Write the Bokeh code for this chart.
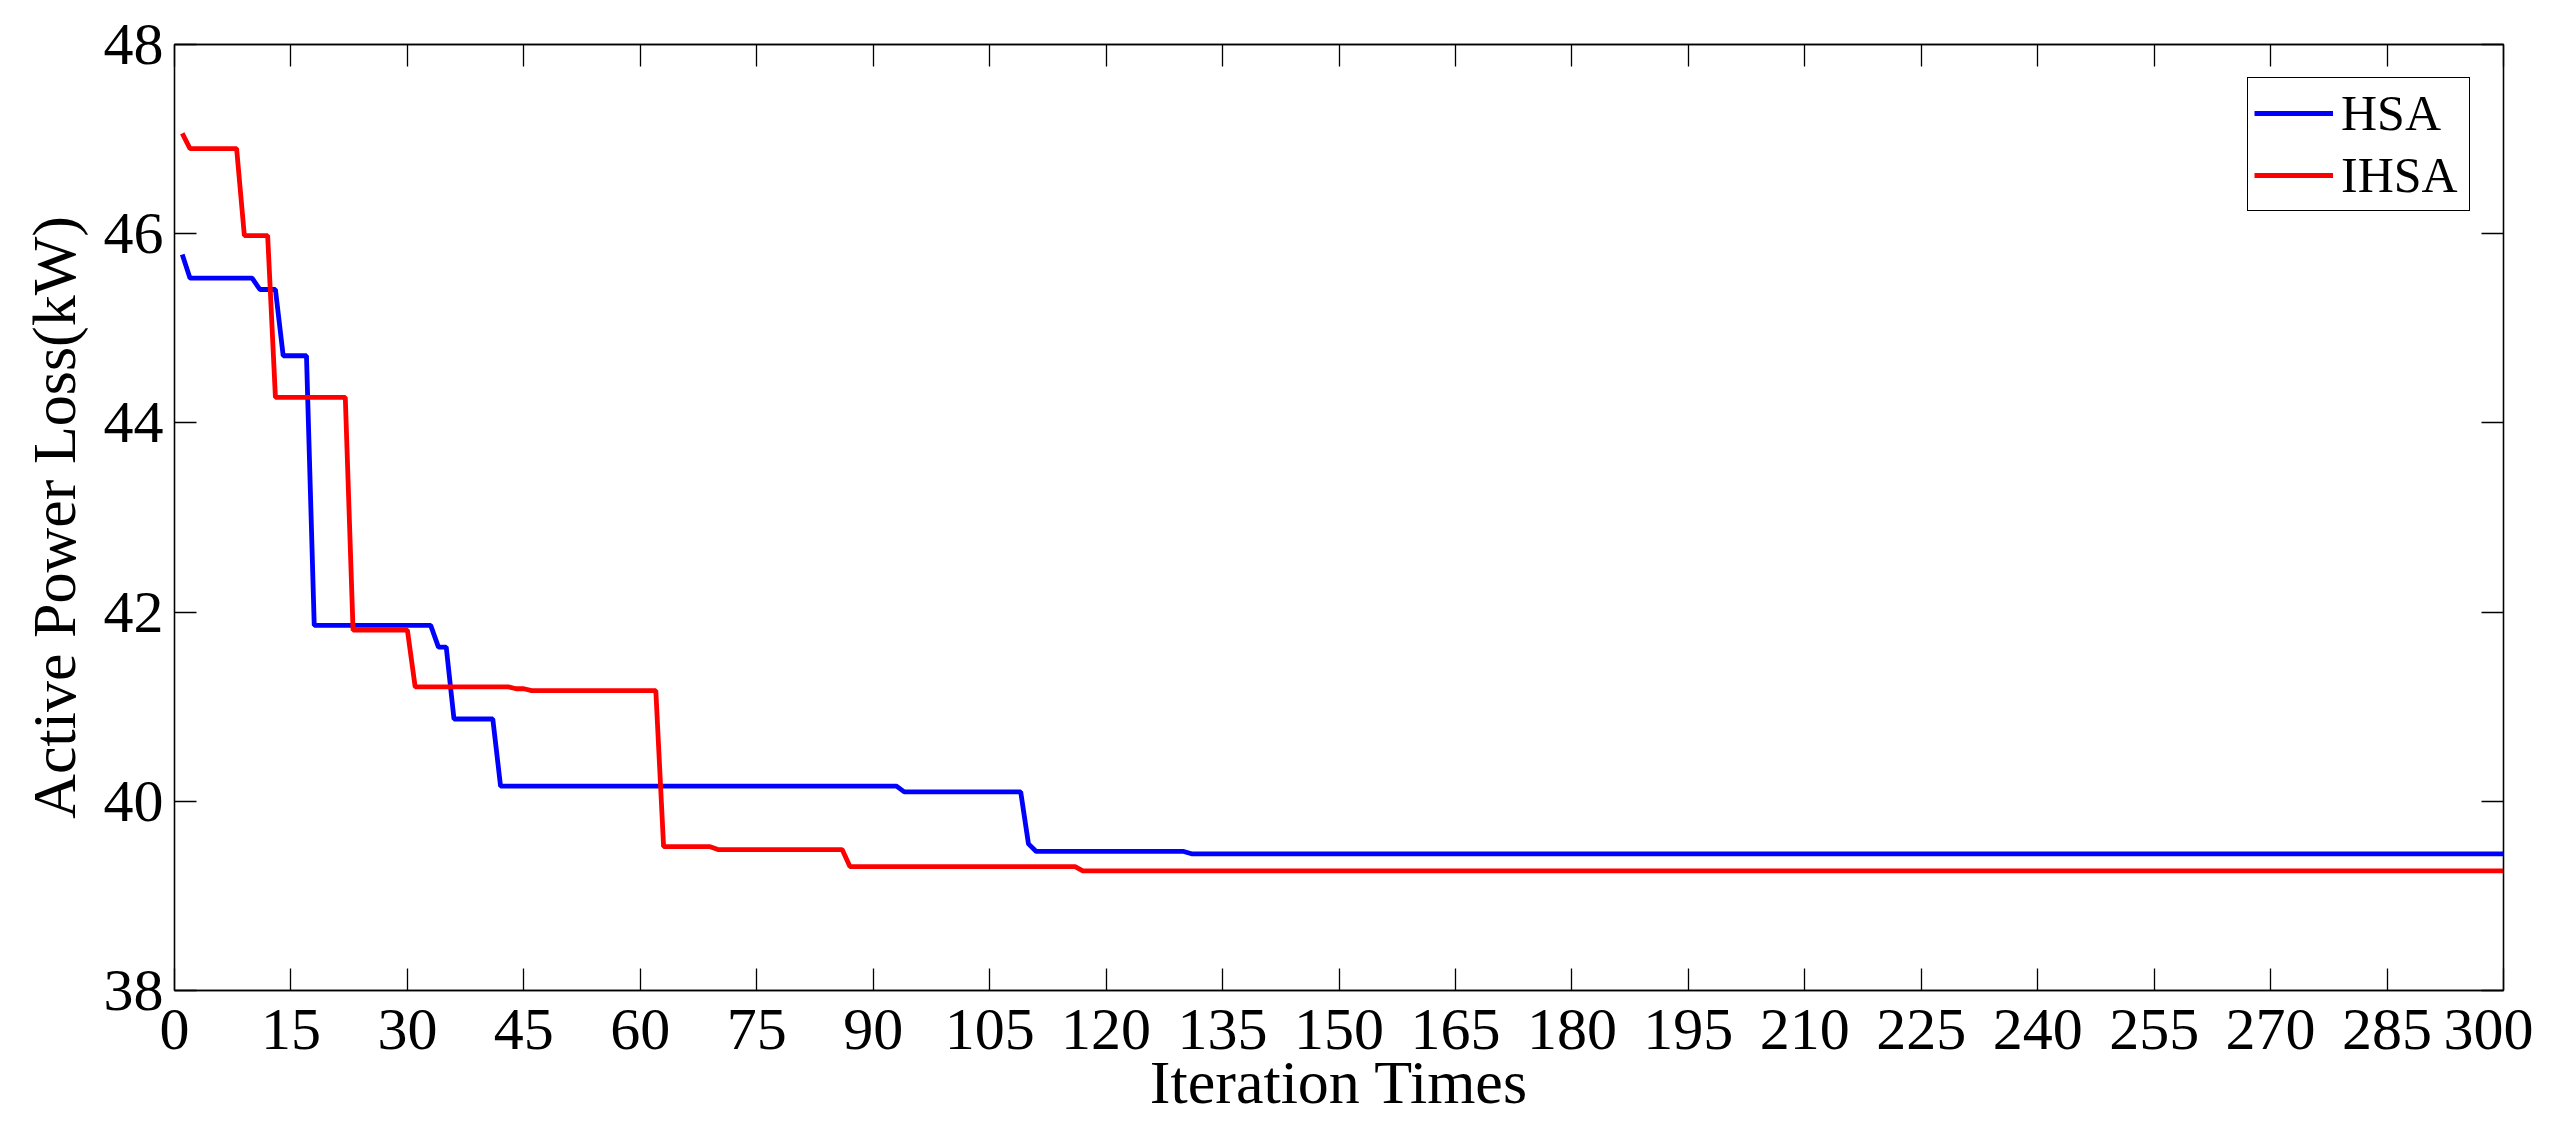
from bokeh.plotting import figure
from bokeh.models import LinearAxis, FixedTicker, Range1d, Legend, LegendItem
from bokeh.embed import file_html
from bokeh.resources import INLINE

# ---- data (breakpoints of the best-so-far curves) ----
hsa_iter = [1, 2, 10, 11, 13, 14, 17, 18, 33, 34, 35, 36, 41, 42, 93, 94, 109, 110, 111, 130, 131, 300]
hsa_loss = [45.78, 45.53, 45.53, 45.41, 45.41, 44.71, 44.71, 41.86, 41.86, 41.63, 41.63, 40.87, 40.87,
            40.16, 40.16, 40.10, 40.10, 39.55, 39.47, 39.47, 39.445, 39.445]

ihsa_iter = [1, 2, 8, 9, 12, 13, 22, 23, 30, 31, 43, 44, 45, 46, 62, 63, 69, 70, 86, 87, 116, 117, 300]
ihsa_loss = [47.06, 46.90, 46.90, 45.98, 45.98, 44.27, 44.27, 41.81, 41.81, 41.21, 41.21, 41.19, 41.19,
             41.17, 41.17, 39.52, 39.52, 39.49, 39.49, 39.31, 39.31, 39.265, 39.265]

x_ticks = list(range(0, 301, 15))
y_ticks = [38, 40, 42, 44, 46, 48]

FONT = "Liberation Serif"

p = figure(frame_width=2329, frame_height=946,
           x_range=Range1d(0, 300), y_range=Range1d(38, 48),
           output_backend="svg", toolbar_location=None,
           min_border_left=174, min_border_top=44, min_border_right=30, min_border_bottom=60,
           background_fill_color="white", border_fill_color="white")

p.grid.visible = False
p.outline_line_color = "black"
p.outline_line_width = 1.3

xa = p.xaxis[0]
ya = p.yaxis[0]
xa.ticker = FixedTicker(ticks=x_ticks)
ya.ticker = FixedTicker(ticks=y_ticks)
xa.axis_label = "Iteration Times"
ya.axis_label = "Active Power Loss(kW)"
for ax in (xa, ya):
    ax.major_tick_in = 22
    ax.major_tick_out = 0
    ax.minor_tick_line_color = None
    ax.axis_line_color = "black"
    ax.axis_line_width = 1.3
    ax.major_tick_line_color = "black"
    ax.major_tick_line_width = 1.3
    ax.major_label_text_font = FONT
    ax.major_label_text_font_size = "60px"
    ax.major_label_text_color = "black"
    ax.axis_label_text_font = FONT
    ax.axis_label_text_font_size = "62px"
    ax.axis_label_text_font_style = "normal"
    ax.axis_label_text_color = "black"
xa.major_label_standoff = 19
xa.axis_label_standoff = -4
ya.major_label_standoff = 11
ya.axis_label_standoff = 13

# mirrored ticks on top and right (no labels)
top = LinearAxis(ticker=FixedTicker(ticks=x_ticks), major_tick_in=22, major_tick_out=0,
                 minor_tick_line_color=None, major_label_text_color=None,
                 major_label_text_font_size="10px",
                 major_label_standoff=0, axis_line_color="black", axis_line_width=1.3,
                 major_tick_line_width=1.3)
right = LinearAxis(ticker=FixedTicker(ticks=y_ticks), major_tick_in=22, major_tick_out=0,
                   minor_tick_line_color=None, major_label_text_color=None,
                   major_label_text_font_size="10px",
                   major_label_standoff=0, axis_line_color="black", axis_line_width=1.3,
                   major_tick_line_width=1.3)
p.add_layout(top, "above")
p.add_layout(right, "right")

r1 = p.line(hsa_iter, hsa_loss, line_color="#0000FF", line_width=4.8)
r2 = p.line(ihsa_iter, ihsa_loss, line_color="#FF0000", line_width=4.8)

legend = Legend(items=[LegendItem(label="HSA", renderers=[r1]),
                       LegendItem(label="IHSA", renderers=[r2])],
                location="top_right", margin=33, padding=6, spacing=4,
                label_standoff=8, glyph_width=79, glyph_height=40, label_width=122,
                label_text_font=FONT, label_text_font_size="50px",
                label_text_color="black",
                border_line_color="black", border_line_width=1.5, border_line_alpha=1.0,
                background_fill_color="white", background_fill_alpha=1.0)
p.add_layout(legend)

open("out.html", "w").write(file_html(p, INLINE))
